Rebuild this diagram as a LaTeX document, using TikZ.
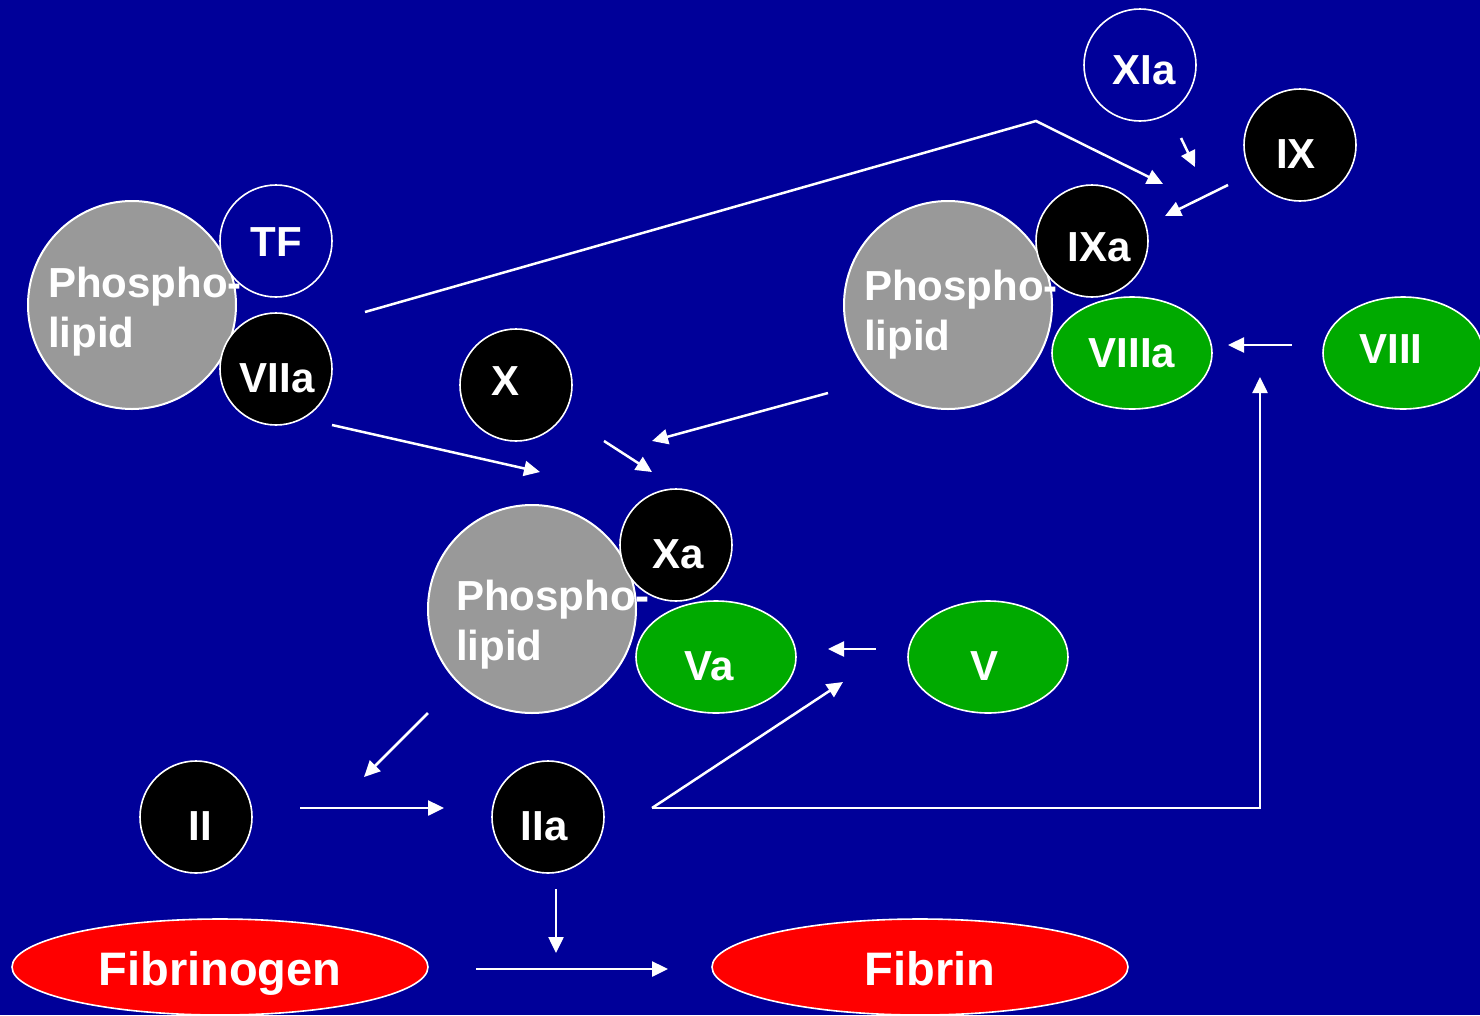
\documentclass[tikz,border=0pt]{standalone}
\usepackage{fontspec}
\setmainfont{Liberation Sans}
\usetikzlibrary{shapes.geometric,arrows.meta}
\definecolor{bg}{RGB}{0,0,153}
\definecolor{plgray}{RGB}{153,153,153}
\definecolor{fgreen}{RGB}{0,170,0}
\definecolor{fred}{RGB}{255,0,0}
\newcommand\labfont{\bfseries\fontsize{42}{50}\selectfont}
\newcommand\bigfont{\bfseries\fontsize{47}{56}\selectfont}
\begin{document}
\begin{tikzpicture}[x=1pt,y=-1pt,
  plc/.style={circle, fill=plgray, draw=white, line width=2pt, minimum size=208pt, inner sep=0pt},
  pltext/.style={anchor=base west, text=white, font=\labfont, inner sep=0pt},
  fac/.style={circle, draw=white, line width=1.6pt, minimum size=112pt, inner sep=0pt},
  gell/.style={ellipse, fill=fgreen, draw=white, line width=1.6pt, minimum width=160pt, minimum height=112pt, inner sep=0pt},
  rell/.style={ellipse, fill=fred, draw=white, line width=1.6pt, minimum width=416pt, minimum height=96pt, inner sep=0pt},
  ftxt/.style={text=white, font=\labfont, inner sep=0pt},
  btxt/.style={text=white, font=\bigfont, inner sep=0pt, text depth=0pt},
  arr/.style={draw=white, line width=2.5pt, -{Triangle[length=16pt,width=15pt]}}]
\fill[bg] (0,0) rectangle (1480,1015);
\useasboundingbox (0,0) rectangle (1480,1015);

% complex 1
\node[plc] (pl1) at (132,305) {};
\node[pltext] (pl1a) at (48,297) {Phospho-};
\node[pltext] (pl1b) at (48,347) {lipid};
\node[fac, fill=bg] (tf) at (276,241) {};
\node[ftxt] (tft) at ([shift={(0,1)}]tf.center) {TF};
\node[fac, fill=black] (viia) at (276,369) {};
\node[ftxt] (viiat) at ([shift={(1,9)}]viia.center) {VIIa};

% complex 2
\node[fac, fill=bg] (xia) at (1140,65) {};
\node[ftxt] (xiat) at ([shift={(4,5)}]xia.center) {XIa};
\node[fac, fill=black] (ix) at (1300,145) {};
\node[ftxt] (ixt) at ([shift={(-4,9)}]ix.center) {IX};
\node[plc] (pl2) at (948,305) {};
\node[pltext] (pl2a) at (864,300) {Phospho-};
\node[pltext] (pl2b) at (864,350) {lipid};
\node[fac, fill=black] (ixa) at (1092,241) {};
\node[ftxt] (ixat) at ([shift={(7,6)}]ixa.center) {IXa};
\node[gell] (viiia) at (1132,353) {};
\node[ftxt] (viiiat) at ([shift={(0,0)}]viiia.center) {VIIIa};
\node[gell] (viii) at (1403,353) {};
\node[ftxt] (viiit) at ([shift={(-12,-4)}]viii.center) {VIII};

% complex 3
\node[fac, fill=black] (x) at (516,385) {};
\node[ftxt] (xt) at ([shift={(-10,-4)}]x.center) {X};
\node[plc] (pl3) at (532,609) {};
\node[pltext] (pl3a) at (456,610) {Phospho-};
\node[pltext] (pl3b) at (456,660) {lipid};
\node[fac, fill=black] (xa) at (676,545) {};
\node[ftxt] (xat) at ([shift={(2,9)}]xa.center) {Xa};
\node[gell] (va) at (716,657) {};
\node[ftxt] (vat) at ([shift={(-7,9)}]va.center) {Va};
\node[gell] (v) at (988,657) {};
\node[ftxt] (vt) at ([shift={(-4,9)}]v.center) {V};

% bottom
\node[fac, fill=black] (ii) at (196,817) {};
\node[ftxt] (iit) at ([shift={(4,9)}]ii.center) {II};
\node[fac, fill=black] (iia) at (548,817) {};
\node[ftxt] (iiat) at ([shift={(-4,9)}]iia.center) {IIa};
\node[rell] (fgn) at (220,967) {};
\node[btxt] (fgnt) at ([shift={(0,1)}]fgn.center) {Fibrinogen};
\node[rell] (fib) at (920,967) {};
\node[btxt] (fibt) at ([shift={(10,1)}]fib.center) {Fibrin};

% connector end points
\coordinate (a1s) at (365,312);
\coordinate (a1c) at (1036,121);
\coordinate (a1e) at (1163,184);
\coordinate (a2s) at (1181,138);
\coordinate (a2e) at (1195,167);
\coordinate (a3s) at (1228,185);
\coordinate (a3e) at (1165,216);
\coordinate (a4s) at (332,425);
\coordinate (a4e) at (540,472);
\coordinate (a5s) at (604,441);
\coordinate (a5e) at (652,472);
\coordinate (a6s) at (828,393);
\coordinate (a6e) at (652,441);
\coordinate (a7s) at (1292,345);
\coordinate (a7e) at (1228,345);
\coordinate (a8s) at (652,808);
\coordinate (a8c) at (1260,808);
\coordinate (a8e) at (1260,377);
\coordinate (a9e) at (843,682);
\coordinate (a10s) at (876,649);
\coordinate (a10e) at (828,649);
\coordinate (a11s) at (428,713);
\coordinate (a11e) at (364,777);
\coordinate (a12s) at (300,808);
\coordinate (a12e) at (444,808);
\coordinate (a13s) at (556,889);
\coordinate (a13e) at (556,953);
\coordinate (a14s) at (476,969);
\coordinate (a14e) at (668,969);

\draw[arr] (a1s) -- (a1c) -- (a1e);
\draw[arr] (a2s) -- (a2e);
\draw[arr] (a3s) -- (a3e);
\draw[arr] (a4s) -- (a4e);
\draw[arr] (a5s) -- (a5e);
\draw[arr] (a6s) -- (a6e);
\draw[arr] (a7s) -- (a7e);
\draw[arr] (a8s) -- (a8c) -- (a8e);
\draw[arr] (a8s) -- (a9e);
\draw[arr] (a10s) -- (a10e);
\draw[arr] (a11s) -- (a11e);
\draw[arr] (a12s) -- (a12e);
\draw[arr] (a13s) -- (a13e);
\draw[arr] (a14s) -- (a14e);
\end{tikzpicture}
\end{document}
